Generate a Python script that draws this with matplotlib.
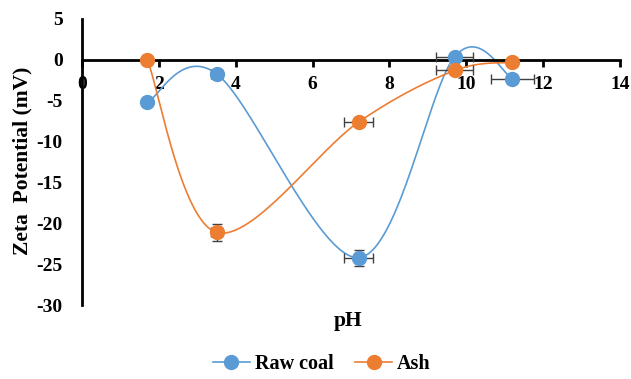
import numpy as np
import matplotlib.pyplot as plt

plt.rcParams['font.family'] = ['Liberation Serif', 'DejaVu Serif']
plt.rcParams['font.weight'] = 'bold'
plt.rcParams['axes.unicode_minus'] = False

# pH values and zeta potential (mV)
ph_raw = [1.7, 3.5, 7.2, 9.7, 11.2]
zeta_raw = [-5.2, -1.7, -24.2, 0.4, -2.3]
xerr_raw = [0.0, 0.15, 0.37, 0.48, 0.55]
yerr_raw = [0.0, 0.0, 1.0, 0.0, 0.0]

ph_ash = [1.7, 3.5, 7.2, 9.7, 11.2]
zeta_ash = [0.0, -21.1, -7.6, -1.3, -0.3]
xerr_ash = [0.0, 0.15, 0.37, 0.48, 0.0]
yerr_ash = [0.0, 1.0, 0.0, 0.0, 0.0]

blue = "#5B9BD5"
orange = "#ED7D31"


# Excel-like smoothed line (Bezier with Catmull-Rom control points)
def smooth(x, y, sx=38.4, sy=8.17, n=60):
    px = np.array(x) * sx
    py = np.array(y) * sy
    pts = np.column_stack([px, py])
    pts = np.vstack([pts[0], pts, pts[-1]])
    out = []
    for i in range(1, len(pts) - 2):
        p0, p1, p2, p3 = pts[i - 1], pts[i], pts[i + 1], pts[i + 2]
        c1 = p1 + (p2 - p0) / 6
        c2 = p2 - (p3 - p1) / 6
        t = np.linspace(0, 1, n)[:, None]
        b = (1 - t) ** 3 * p1 + 3 * (1 - t) ** 2 * t * c1 + 3 * (1 - t) * t ** 2 * c2 + t ** 3 * p2
        out.append(b)
    out = np.vstack(out)
    return out[:, 0] / sx, out[:, 1] / sy


fig = plt.figure(figsize=(6.31, 3.79), dpi=100)
ax = fig.add_axes([0.13, 0.195, 0.8526, 0.755])

for xs, ys, xe, ye, c, lab in [(ph_raw, zeta_raw, xerr_raw, yerr_raw, blue, "Raw coal"),
                               (ph_ash, zeta_ash, xerr_ash, yerr_ash, orange, "Ash")]:
    sx_, sy_ = smooth(xs, ys)
    ax.plot(sx_, sy_, color=c, lw=1.2, zorder=2)
    ax.errorbar(xs, ys, xerr=xe, yerr=ye, fmt='none', ecolor='#404040',
                elinewidth=1, capsize=3.5, capthick=1, zorder=3)
    ax.plot(xs, ys, 'o', color=c, ms=10, zorder=4)
    ax.plot([], [], '-o', color=c, ms=10, lw=1.2, label=lab)

ax.set_xlim(0, 14)
ax.set_ylim(-30, 5)
ax.set_xticks(range(0, 15, 2))
ax.set_yticks(range(-30, 6, 5))

ax.spines['right'].set_visible(False)
ax.spines['top'].set_visible(False)
ax.spines['bottom'].set_position(('data', 0))
ax.spines['bottom'].set_linewidth(2)
ax.spines['left'].set_linewidth(2)
ax.tick_params(axis='x', direction='out', length=5, width=2, pad=7, labelsize=14)
ax.tick_params(axis='y', length=0, pad=14, labelsize=14)
for lbl in ax.get_xticklabels() + ax.get_yticklabels():
    lbl.set_fontweight('bold')

fig.text(0.035, 0.575, "Zeta  Potential (mV)", rotation=90, ha='center', va='center',
         fontsize=15.5, fontweight='bold')
fig.text(0.552, 0.152, "pH", ha='center', va='center', fontsize=15.5, fontweight='bold')

fig.legend(loc='lower center', bbox_to_anchor=(0.51, -0.035), ncol=2, frameon=False,
           prop={'size': 14.5, 'weight': 'bold'}, handlelength=1.8, columnspacing=1.1,
           handletextpad=0.25)

fig.savefig("out.png", dpi=100)
